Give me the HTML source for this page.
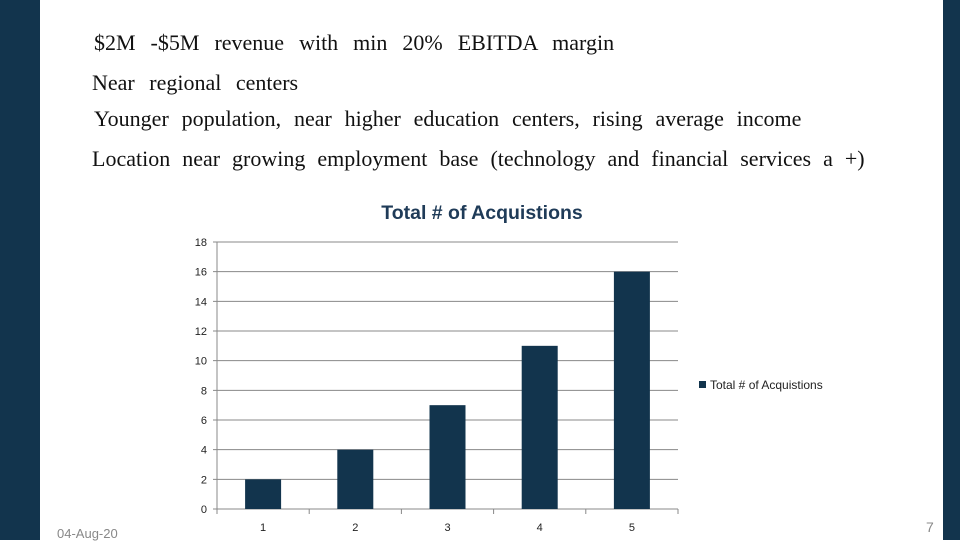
<!DOCTYPE html>
<html><head><meta charset="utf-8"><style>
body{margin:0;width:960px;height:540px;overflow:hidden;background:#fff;position:relative;font-family:"Liberation Serif",serif}
.bar{position:absolute;top:0;height:540px;background:#12344d}
.t{position:absolute;font-size:22px;color:#111;white-space:nowrap}
</style></head><body>
<div class="bar" style="left:0;width:40px"></div>
<div class="bar" style="left:943px;width:17px"></div>
<div class="t" style="left:94px;top:30px;word-spacing:9.5px">$2M -$5M revenue with min 20% EBITDA margin</div>
<div class="t" style="left:92px;top:70px;word-spacing:9px">Near regional centers</div>
<div class="t" style="left:94px;top:106px;word-spacing:7.3px">Younger population, near higher education centers, rising average income</div>
<div class="t" style="left:92px;top:146px;word-spacing:6.5px">Location near growing employment base (technology and financial services a +)</div>
<div style="position:absolute;left:57px;top:526px;font:13px 'Liberation Sans',sans-serif;color:#888">04-Aug-20</div>
<div style="position:absolute;left:926px;top:519px;font:14px 'Liberation Sans',sans-serif;color:#888">7</div>
<svg id="c" width="960" height="540" style="position:absolute;left:0;top:0" font-family="Liberation Sans, sans-serif"></svg>
<script>
const categories=["1","2","3","4","5"];
const values=[2,4,7,11,16];
const ticks=[0,2,4,6,8,10,12,14,16,18];
const NS="http://www.w3.org/2000/svg";
const svg=document.getElementById('c');
const x0=217,x1=678,y0=509,y1=242,maxV=18;
const yS=v=>y0-(v/maxV)*(y0-y1);
const cw=(x1-x0)/categories.length;
const xS=i=>x0+cw*(i+0.5);
function mk(t,a){const e=document.createElementNS(NS,t);for(const k in a)e.setAttribute(k,a[k]);svg.appendChild(e);return e;}
const title=mk('text',{x:482,y:219,'text-anchor':'middle','font-size':19.5,'font-weight':'bold',fill:'#1f3b58'});
title.textContent='Total # of Acquistions';


ticks.forEach(v=>{
 const l=mk('line',{x1:x0-4,x2:x1,y1:yS(v),y2:yS(v),stroke:'#888','stroke-width':1});
 
 
 const t=mk('text',{x:207,y:yS(v)+4,'text-anchor':'end','font-size':11,fill:'#222'});
 t.textContent=v;
 
 
});
mk('line',{x1:x0,x2:x0,y1:y1,y2:y0,stroke:'#888'});
categories.forEach((c,i)=>{
 const tk=mk('line',{x1:x0+cw*i,x2:x0+cw*i,y1:y0,y2:y0+5,stroke:'#888'});
 
 
 const b=mk('rect',{x:xS(i)-18,y:yS(values[i]),width:36,height:y0-yS(values[i]),fill:'#12344d'});
 
 
 const t=mk('text',{x:xS(i),y:531,'text-anchor':'middle','font-size':11,fill:'#222'});
 t.textContent=c;
 
 
});
mk('line',{x1:x1,x2:x1,y1:y0,y2:y0+5,stroke:'#888'});
const lg=mk('rect',{x:699,y:381,width:7,height:7,fill:'#12344d'});


const lt=mk('text',{x:710,y:389,'font-size':12,fill:'#222'});
lt.textContent='Total # of Acquistions';


</script>
</body></html>
